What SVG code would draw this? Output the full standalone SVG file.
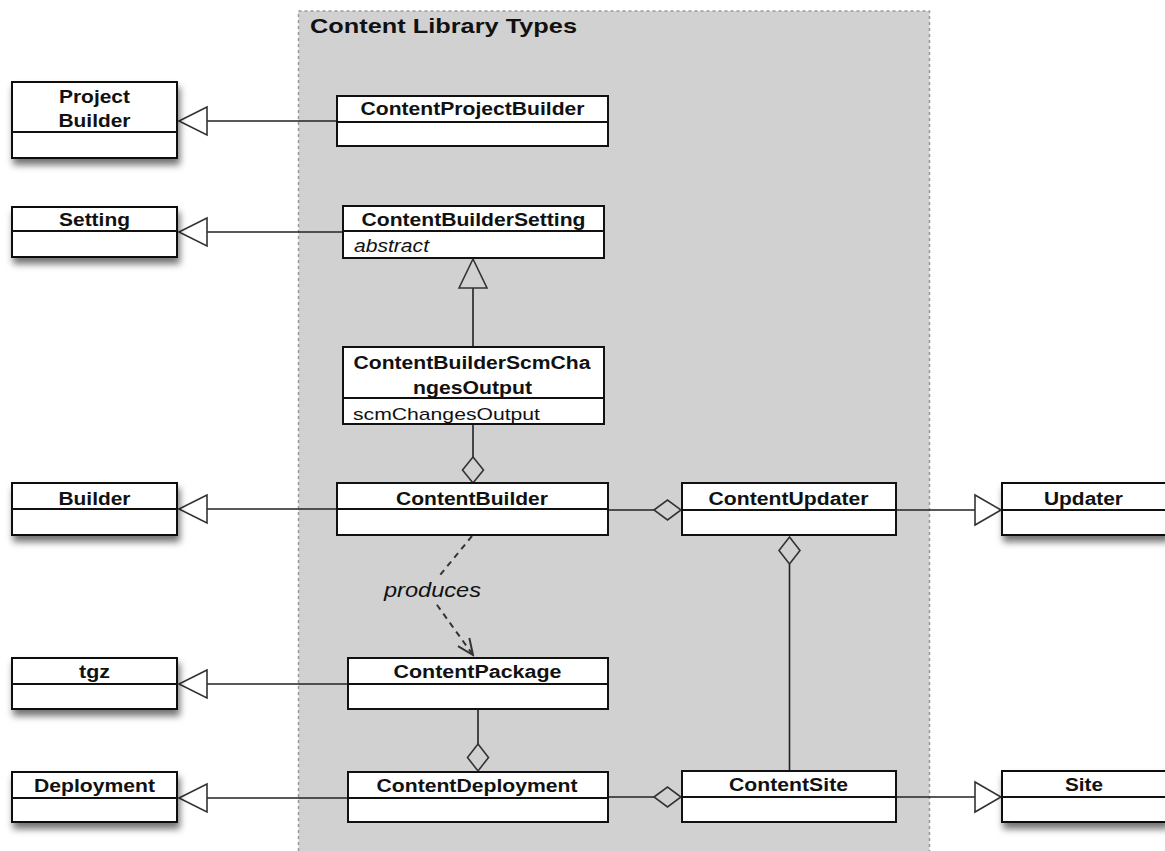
<svg xmlns="http://www.w3.org/2000/svg" width="1165" height="851" viewBox="0 0 1165 851">
<style>
.box{fill:#fff;stroke:#111;stroke-width:2}
.div{stroke:#111;stroke-width:2}
.t{font-family:"Liberation Sans",Arial,Helvetica,sans-serif;font-weight:bold;font-size:18px;fill:#111;text-anchor:middle}
.a{font-family:"Liberation Sans",Arial,Helvetica,sans-serif;font-size:17px;fill:#111}
.i{font-style:italic}
.ln{stroke:#222;stroke-width:1.6;fill:none}
.head{stroke:#333;stroke-width:1.6;fill:none;stroke-linejoin:miter}
.dash{stroke:#333;stroke-width:2;fill:none;stroke-dasharray:6 5}
</style>
<defs>
<filter id="sh" x="-20%" y="-30%" width="150%" height="180%">
<feDropShadow dx="2" dy="6" stdDeviation="3.5" flood-color="#000" flood-opacity="0.55"/>
</filter>
<marker id="open" viewBox="0 0 20 20" refX="18" refY="10" markerWidth="20" markerHeight="20" markerUnits="userSpaceOnUse" orient="auto">
<path d="M2,3 L18,10 L2,17" fill="none" stroke="#333" stroke-width="2"/>
</marker>
</defs>
<rect x="298.5" y="11" width="631" height="860" fill="#d1d1d1" stroke="#999" stroke-width="1.5" stroke-dasharray="3 3"/>
<text x="310" y="33" class="t" style="text-anchor:start;font-size:21px" textLength="267" lengthAdjust="spacingAndGlyphs">Content Library Types</text>

<g id="connectors">
<line class="ln" x1="337" y1="121" x2="207" y2="121"/>
<path class="head" d="M207,107 L179,121 L207,135 Z"/>
<line class="ln" x1="343" y1="232" x2="207" y2="232"/>
<path class="head" d="M207,218 L179,232 L207,246 Z"/>
<line class="ln" x1="473" y1="347" x2="473" y2="288"/>
<path class="head" d="M459,288 L473,259 L487,288 Z"/>
<line class="ln" x1="337" y1="509" x2="207" y2="509"/>
<path class="head" d="M207,495 L179,509 L207,523 Z"/>
<line class="ln" x1="473" y1="424" x2="473" y2="457"/>
<path class="head" d="M473,457 L483.5,470 L473,483 L462.5,470 Z"/>
<line class="ln" x1="608" y1="510" x2="654" y2="510"/>
<path class="head" d="M654,510 L667.5,500 L681,510 L667.5,520 Z"/>
<line class="ln" x1="896" y1="510" x2="975" y2="510"/>
<path class="head" d="M975,495 L1001,510 L975,525 Z"/>
<line class="ln" x1="789.5" y1="771" x2="789.5" y2="564"/>
<path class="head" d="M789.5,537 L800,550.5 L789.5,564 L779,550.5 Z"/>
<polyline class="dash" points="472,536 427,591 473,655" marker-end="url(#open)"/>
<rect x="382" y="576" width="104" height="28" fill="#d1d1d1"/>
<text x="384" y="597" class="a i" style="font-size:20px" textLength="97" lengthAdjust="spacingAndGlyphs">produces</text>
<line class="ln" x1="348" y1="684" x2="207" y2="684"/>
<path class="head" d="M207,670 L179,684 L207,698 Z"/>
<line class="ln" x1="478" y1="709" x2="478" y2="744"/>
<path class="head" d="M478,744 L488.5,757.5 L478,771 L467.5,757.5 Z"/>
<line class="ln" x1="348" y1="798" x2="207" y2="798"/>
<path class="head" d="M207,784 L179,798 L207,812 Z"/>
<line class="ln" x1="608" y1="797" x2="654" y2="797"/>
<path class="head" d="M654,797 L667.5,787 L681,797 L667.5,807 Z"/>
<line class="ln" x1="896" y1="797" x2="975" y2="797"/>
<path class="head" d="M975,782 L1001,797 L975,812 Z"/>
</g>

<g id="ProjectBuilder">
<rect class="box" x="12" y="82" width="165" height="76" filter="url(#sh)"/>
<line class="div" x1="12" y1="132" x2="177" y2="132"/>
<text x="94.5" y="103" class="t" textLength="71" lengthAdjust="spacingAndGlyphs">Project</text>
<text x="94.5" y="127" class="t" textLength="72" lengthAdjust="spacingAndGlyphs">Builder</text>
</g>
<g id="Setting">
<rect class="box" x="12" y="207" width="165" height="50" filter="url(#sh)"/>
<line class="div" x1="12" y1="231" x2="177" y2="231"/>
<text x="94.5" y="226" class="t" textLength="71" lengthAdjust="spacingAndGlyphs">Setting</text>
</g>
<g id="Builder">
<rect class="box" x="12" y="483" width="165" height="52" filter="url(#sh)"/>
<line class="div" x1="12" y1="509" x2="177" y2="509"/>
<text x="94.5" y="505" class="t" textLength="72" lengthAdjust="spacingAndGlyphs">Builder</text>
</g>
<g id="tgz">
<rect class="box" x="12" y="658" width="165" height="51" filter="url(#sh)"/>
<line class="div" x1="12" y1="684" x2="177" y2="684"/>
<text x="94.5" y="678" class="t" textLength="31" lengthAdjust="spacingAndGlyphs">tgz</text>
</g>
<g id="Deployment">
<rect class="box" x="12" y="772" width="165" height="50" filter="url(#sh)"/>
<line class="div" x1="12" y1="798" x2="177" y2="798"/>
<text x="94.5" y="792" class="t" textLength="121" lengthAdjust="spacingAndGlyphs">Deployment</text>
</g>

<g id="ContentProjectBuilder">
<rect class="box" x="337" y="96" width="271" height="50"/>
<line class="div" x1="337" y1="122" x2="608" y2="122"/>
<text x="472.5" y="115" class="t" textLength="224" lengthAdjust="spacingAndGlyphs">ContentProjectBuilder</text>
</g>
<g id="ContentBuilderSetting">
<rect class="box" x="343" y="206" width="261" height="52"/>
<line class="div" x1="343" y1="231" x2="604" y2="231"/>
<text x="473.5" y="226" class="t" textLength="224" lengthAdjust="spacingAndGlyphs">ContentBuilderSetting</text>
<text x="354" y="252" class="a i" style="font-size:18px" textLength="75" lengthAdjust="spacingAndGlyphs">abstract</text>
</g>
<g id="ContentBuilderScmChangesOutput">
<rect class="box" x="343" y="347" width="261" height="77"/>
<line class="div" x1="343" y1="398" x2="604" y2="398"/>
<text x="472" y="369" class="t" textLength="237" lengthAdjust="spacingAndGlyphs">ContentBuilderScmCha</text>
<text x="472.5" y="394" class="t" textLength="119" lengthAdjust="spacingAndGlyphs">ngesOutput</text>
<text x="353" y="420" class="a" textLength="187" lengthAdjust="spacingAndGlyphs">scmChangesOutput</text>
</g>
<g id="ContentBuilder">
<rect class="box" x="337" y="483" width="271" height="52"/>
<line class="div" x1="337" y1="509" x2="608" y2="509"/>
<text x="472" y="505" class="t" textLength="152" lengthAdjust="spacingAndGlyphs">ContentBuilder</text>
</g>
<g id="ContentPackage">
<rect class="box" x="348" y="658" width="260" height="51"/>
<line class="div" x1="348" y1="684" x2="608" y2="684"/>
<text x="477.5" y="678" class="t" textLength="168" lengthAdjust="spacingAndGlyphs">ContentPackage</text>
</g>
<g id="ContentDeployment">
<rect class="box" x="348" y="772" width="260" height="50"/>
<line class="div" x1="348" y1="798" x2="608" y2="798"/>
<text x="477" y="792" class="t" textLength="201" lengthAdjust="spacingAndGlyphs">ContentDeployment</text>
</g>
<g id="ContentUpdater">
<rect class="box" x="682" y="483" width="214" height="52"/>
<line class="div" x1="682" y1="510" x2="896" y2="510"/>
<text x="788.5" y="505" class="t" textLength="160" lengthAdjust="spacingAndGlyphs">ContentUpdater</text>
</g>
<g id="ContentSite">
<rect class="box" x="682" y="771" width="214" height="51"/>
<line class="div" x1="682" y1="797" x2="896" y2="797"/>
<text x="788.5" y="791" class="t" textLength="119" lengthAdjust="spacingAndGlyphs">ContentSite</text>
</g>
<g id="Updater">
<rect class="box" x="1002" y="483" width="165" height="52" filter="url(#sh)"/>
<line class="div" x1="1002" y1="510" x2="1167" y2="510"/>
<text x="1083.5" y="505" class="t" textLength="79" lengthAdjust="spacingAndGlyphs">Updater</text>
</g>
<g id="Site">
<rect class="box" x="1002" y="771" width="165" height="51" filter="url(#sh)"/>
<line class="div" x1="1002" y1="797" x2="1167" y2="797"/>
<text x="1084" y="791" class="t" textLength="38" lengthAdjust="spacingAndGlyphs">Site</text>
</g>
</svg>
